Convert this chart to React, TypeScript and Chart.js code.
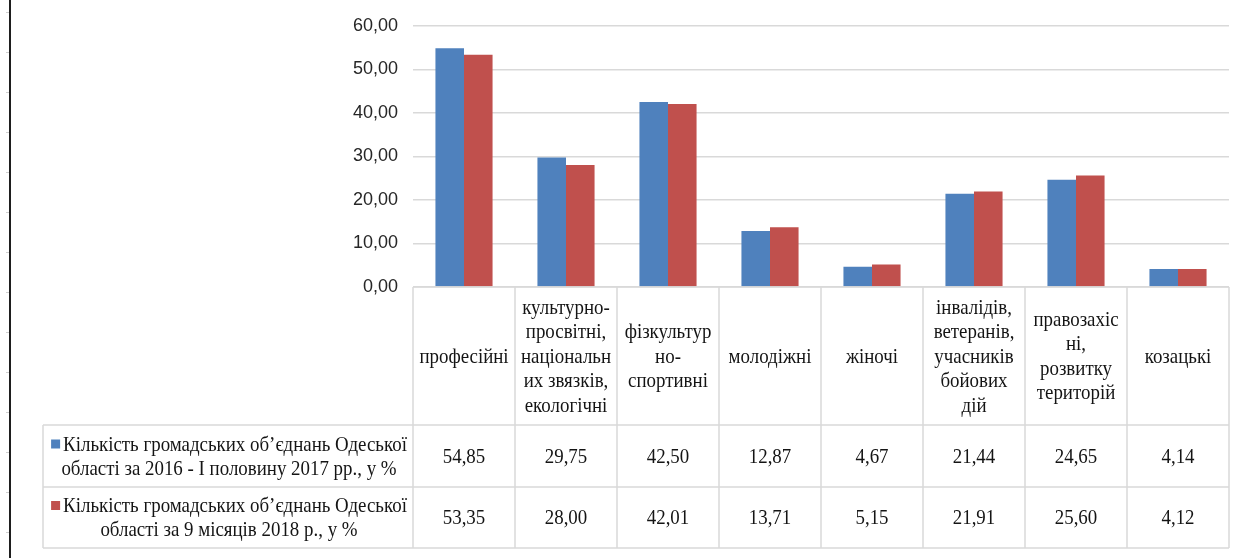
import { useEffect, useRef } from "react";
import { Chart, registerables } from "chart.js";

Chart.register(...registerables);

const W = 1249;
const H = 558;

// ---- data ----
const categories: string[][] = [
  ["професійні"],
  ["культурно-", "просвітні,", "національн", "их звязків,", "екологічні"],
  ["фізкультур", "но-", "спортивні"],
  ["молодіжні"],
  ["жіночі"],
  ["інвалідів,", "ветеранів,", "учасників", "бойових", "дій"],
  ["правозахіс", "ні,", "розвитку", "територій"],
  ["козацькі"],
];

const series1Name = [
  "Кількість громадських об’єднань Одеської",
  "області за 2016 - І половину 2017 рр., у %",
];
const series2Name = [
  "Кількість громадських об’єднань Одеської",
  "області за 9 місяців 2018 р., у %",
];

const series1 = [54.85, 29.75, 42.5, 12.87, 4.67, 21.44, 24.65, 4.14];
const series2 = [53.35, 28.0, 42.01, 13.71, 5.15, 21.91, 25.6, 4.12];

const yMin = 0;
const yMax = 60;
const yStep = 10;

const BLUE = "#4F81BD";
const RED = "#C0504D";

function fmt(v: number): string {
  return v.toFixed(2).replace(".", ",");
}

const SX = 0.9;
const TABLE_FONT = '21px "Liberation Serif", "Times New Roman", serif';
const GRID = "#d9d9d9";

function drawScaled(ctx: CanvasRenderingContext2D, s: string, x: number, y: number) {
  ctx.save();
  ctx.translate(x, y);
  ctx.scale(SX, 1);
  ctx.fillText(s, 0, 0);
  ctx.restore();
}

const framePlugin = {
  id: "frame",
  beforeDraw(chart: any) {
    const ctx = chart.ctx as CanvasRenderingContext2D;
    ctx.save();
    ctx.fillStyle = "#ffffff";
    ctx.fillRect(0, 0, chart.width, chart.height);
    ctx.fillStyle = "#1e1e1e";
    ctx.fillRect(9, 0, 2, chart.height);
    ctx.fillStyle = "#cfcfcf";
    for (let y = 12; y < chart.height; y += 40) ctx.fillRect(6, y, 3, 1);
    ctx.restore();
  },
};

const tablePlugin = {
  id: "dataTable",
  afterDraw(chart: any) {
    const ctx = chart.ctx as CanvasRenderingContext2D;
    const { left, right, bottom } = chart.chartArea;
    const xs = chart.scales.x;
    const n = categories.length;
    const cw = (right - left) / n;
    const headerBottom = bottom + 138;
    const row1Bottom = headerBottom + 62;
    const row2Bottom = row1Bottom + 61;
    const legendLeft = 43;

    ctx.save();
    ctx.strokeStyle = GRID;
    ctx.lineWidth = 1.5;
    ctx.beginPath();
    ctx.moveTo(left, bottom);
    ctx.lineTo(right, bottom);
    for (let i = 0; i <= n; i++) {
      const xx = left + i * cw;
      ctx.moveTo(xx, bottom);
      ctx.lineTo(xx, row2Bottom);
    }
    for (const yy of [headerBottom, row1Bottom, row2Bottom]) {
      ctx.moveTo(legendLeft, yy);
      ctx.lineTo(right, yy);
    }
    ctx.moveTo(legendLeft, headerBottom);
    ctx.lineTo(legendLeft, row2Bottom);
    ctx.stroke();

    ctx.fillStyle = "#141414";
    ctx.font = TABLE_FONT;
    ctx.textBaseline = "middle";
    ctx.textAlign = "center";

    const lh = 24.5;
    categories.forEach((lines, i) => {
      const cx = xs.getPixelForValue(i);
      const cy = (bottom + headerBottom) / 2 - ((lines.length - 1) * lh) / 2;
      lines.forEach((ln, k) => drawScaled(ctx, ln, cx, cy + k * lh + 1));
    });

    const rows = [
      { vals: series1, top: headerBottom, bot: row1Bottom, name: series1Name, color: BLUE },
      { vals: series2, top: row1Bottom, bot: row2Bottom, name: series2Name, color: RED },
    ];
    rows.forEach((r) => {
      const cy = (r.top + r.bot) / 2;
      r.vals.forEach((v, i) => {
        drawScaled(ctx, fmt(v), xs.getPixelForValue(i), cy + 1);
      });
      const cellCx = (legendLeft + left) / 2;
      const l1y = cy - 12 + 1;
      const l2y = cy + 12 + 1;
      const sq = 9;
      const gap = 3;
      const w1 = ctx.measureText(r.name[0]).width * SX;
      const total = sq + gap + w1;
      const start = cellCx - total / 2 + 1;
      ctx.fillStyle = r.color;
      ctx.fillRect(start, l1y - sq / 2 - 1, sq, sq);
      ctx.fillStyle = "#141414";
      ctx.textAlign = "left";
      drawScaled(ctx, r.name[0], start + sq + gap, l1y);
      ctx.textAlign = "center";
      drawScaled(ctx, r.name[1], cellCx + 1, l2y);
    });
    ctx.restore();
  },
};

export default function App() {
  const ref = useRef<HTMLCanvasElement | null>(null);

  useEffect(() => {
    if (!ref.current) return;
    const chart = new Chart(ref.current, {
      type: "bar",
      data: {
        labels: categories,
        datasets: [
          {
            label: series1Name.join(" "),
            data: series1,
            backgroundColor: BLUE,
            borderWidth: 0,
            categoryPercentage: 0.56,
            barPercentage: 1,
          },
          {
            label: series2Name.join(" "),
            data: series2,
            backgroundColor: RED,
            borderWidth: 0,
            categoryPercentage: 0.56,
            barPercentage: 1,
          },
        ],
      },
      options: {
        responsive: false,
        animation: false,
        devicePixelRatio: 1,
        layout: { padding: { top: 23, right: 20, bottom: 271, left: 0 } },
        plugins: {
          legend: { display: false },
          tooltip: { enabled: false },
        },
        scales: {
          x: { display: false },
          y: {
            min: yMin,
            max: yMax,
            border: { display: false },
            grid: { color: GRID, lineWidth: 1.5, drawTicks: false },
            ticks: {
              stepSize: yStep,
              padding: 15,
              color: "#262626",
              font: { family: '"Liberation Sans Narrow", "Liberation Sans", Arial, sans-serif', size: 18 },
              callback: (v: any) => fmt(Number(v)),
            },
            afterFit: (s: any) => {
              s.width = 413;
            },
          },
        },
      },
      plugins: [framePlugin, tablePlugin],
    });
    return () => chart.destroy();
  }, []);

  return (
    <div style={{ position: "fixed", left: 0, top: 0, width: W, height: H, background: "#fff" }}>
      <canvas ref={ref} width={W} height={H} style={{ display: "block", width: W, height: H }} />
    </div>
  );
}
